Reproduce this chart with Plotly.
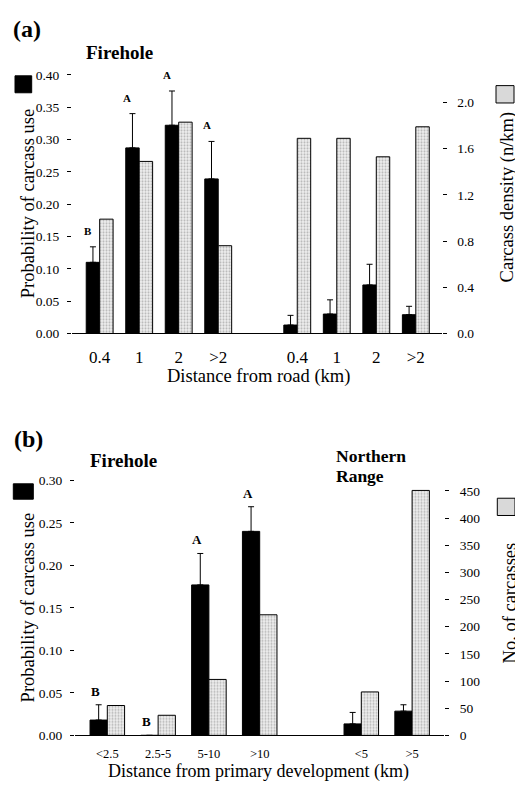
import plotly.graph_objects as go

# ---------------- data ----------------
a_labels = ["0.4", "1", "2", ">2", "0.4", "1", "2", ">2"]
a_pos = [0, 1, 2, 3, 5, 6, 7, 8]
a_prob = [0.110, 0.287, 0.322, 0.239, 0.013, 0.030, 0.075, 0.029]
a_prob_se = [0.024, 0.053, 0.053, 0.058, 0.015, 0.022, 0.032, 0.013]
a_density = [0.99, 1.49, 1.83, 0.76, 1.69, 1.69, 1.53, 1.79]
a_letters = ["B", "A", "A", "A", "", "", "", ""]

b_labels = ["<2.5", "2.5-5", "5-10", ">10", "<5", ">5"]
b_pos = [0, 1, 2, 3, 5, 6]
b_prob = [0.018, 0.0, 0.177, 0.240, 0.0135, 0.0285]
b_prob_se = [0.018, 0.0, 0.037, 0.029, 0.0135, 0.0075]
b_carcasses = [55, 37, 103, 222, 80, 451]
b_letters = ["B", "B", "A", "A", "", ""]

SERIF = "Liberation Serif"
OFF = 8                      # page body margin
W, H = 523 - OFF, 788 - OFF  # figure size
BW = 0.34

def px(x):   # page x -> paper
    return (x - OFF) / W

def py(y):   # page y -> paper
    return 1 - (y - OFF) / H

grey_marker = dict(color="white", line=dict(color="black", width=1),
                   pattern=dict(shape=".", fgcolor="#7a7a7a", bgcolor="#f0f0f0",
                                size=3, solidity=0.4))
black_marker = dict(color="black", line=dict(color="black", width=1))

fig = go.Figure()

def err(se):
    return dict(type="data", array=se, arrayminus=[0] * len(se), symmetric=False,
                color="black", thickness=1, width=3)

# panel (a)
fig.add_bar(x=a_pos, y=a_prob, offset=-BW, width=BW, marker=black_marker,
            error_y=err(a_prob_se), xaxis="x", yaxis="y", showlegend=False)
fig.add_bar(x=a_pos, y=a_density, offset=0, width=BW, marker=grey_marker,
            xaxis="x", yaxis="y2", showlegend=False)
# panel (b)
fig.add_bar(x=b_pos, y=b_prob, offset=-BW, width=BW, marker=black_marker,
            error_y=err(b_prob_se), xaxis="x2", yaxis="y3", showlegend=False)
fig.add_bar(x=b_pos, y=b_carcasses, offset=0, width=BW, marker=grey_marker,
            xaxis="x2", yaxis="y4", showlegend=False)

tickfont = dict(family=SERIF, size=13.5, color="black")

def yleft(domain, rng, dtick, fmt, anchor):
    return dict(domain=domain, range=rng, dtick=dtick, tick0=0, tickformat=fmt,
                ticks="outside", ticklen=4, tickcolor="black", tickwidth=1,
                showline=False, showgrid=False, zeroline=False, anchor=anchor,
                tickfont=tickfont, ticklabelstandoff=5)

def yright(domain, rng, tickvals, fmt, over, anchor):
    return dict(domain=domain, range=rng, tickvals=tickvals, tickformat=fmt,
                side="right", overlaying=over, anchor=anchor,
                ticks="outside", ticklen=4, tickcolor="black", showline=False,
                showgrid=False, zeroline=False, tickfont=tickfont, ticklabelstandoff=8)

a_dom_y = [py(332.7), py(69)]
b_dom_y = [py(742.5), py(482.5)]

fig.update_layout(
    width=W, height=H, margin=dict(l=0, r=0, t=0, b=0),
    paper_bgcolor="white", plot_bgcolor="white", barmode="overlay",
    xaxis=dict(domain=[px(72), px(441.5)], range=[-0.7, 8.65], tickvals=a_pos,
               ticktext=a_labels, ticks="", showline=True, linecolor="black",
               linewidth=1, showgrid=False, zeroline=False, anchor="y",
               tickfont=dict(family=SERIF, size=17, color="black"), ticklabelstandoff=8),
    yaxis=yleft(a_dom_y, [0, 0.40], 0.05, ".2f", "x"),
    yaxis2=yright(a_dom_y, [0, 2.24], [0, 0.4, 0.8, 1.2, 1.6, 2.0], ".1f", "y", "x"),
    xaxis2=dict(domain=[px(75), px(444)], range=[-0.636, 6.628], tickvals=b_pos,
                ticktext=b_labels, ticks="", showline=True, linecolor="black",
                linewidth=1, showgrid=False, zeroline=False, anchor="y3",
                tickfont=dict(family=SERIF, size=12.5, color="black"), ticklabelstandoff=7),
    yaxis3=yleft(b_dom_y, [0, 0.30], 0.05, ".2f", "x2"),
    yaxis4=yright(b_dom_y, [0, 469.5], list(range(0, 451, 50)), "d", "y3", "x2"),
)

ann = []
# significance letters
for p, v, s, L in zip(a_pos, a_prob, a_prob_se, a_letters):
    if L:
        ann.append(dict(x=p - BW / 2, y=v + s, xref="x", yref="y", text="<b>%s</b>" % L,
                        showarrow=False, yanchor="bottom", xshift=-5, yshift=8,
                        font=dict(family=SERIF, size=11, color="black")))
for p, v, s, L in zip(b_pos, b_prob, b_prob_se, b_letters):
    if L:
        ann.append(dict(x=p - BW / 2, y=v + s, xref="x2", yref="y3", text="<b>%s</b>" % L,
                        showarrow=False, yanchor="bottom", xshift=-3, yshift=4,
                        font=dict(family=SERIF, size=13, color="black")))

def txt(x, y, text, size, bold=False, angle=0, xanchor="center"):
    t = "<b>%s</b>" % text if bold else text
    return dict(x=px(x), y=py(y), xref="paper", yref="paper", text=t,
                showarrow=False, textangle=angle, xanchor=xanchor, yanchor="middle",
                font=dict(family=SERIF, size=size, color="black"))

ann += [
    txt(27, 22, "(a)", 24, bold=True),
    txt(119, 46, "Firehole", 19, bold=True),
    txt(28, 200, "Probability of carcass use", 18.5, angle=-90),
    txt(507, 194, "Carcass density (n/km)", 18.5, angle=-90),
    txt(258, 377, "Distance from road (km)", 18.5),
    txt(28, 440, "(b)", 24, bold=True),
    txt(123, 462, "Firehole", 19, bold=True),
    txt(334, 458, "Northern", 17.5, bold=True, xanchor="left"),
    txt(334, 478.5, "Range", 17.5, bold=True, xanchor="left"),
    txt(28, 612, "Probability of carcass use", 18.5, angle=-90),
    txt(510, 608, "No. of carcasses", 18.5, angle=-90),
    txt(258, 779, "Distance from primary development (km)", 18),
]
fig.update_layout(annotations=ann)

# legend keys
def key(x0, y0, x1, y1, grey):
    return dict(type="rect", xref="paper", yref="paper", x0=px(x0), x1=px(x1),
                y0=py(y1), y1=py(y0),
                fillcolor="#d9d9d9" if grey else "black",
                line=dict(color="black", width=1))

fig.update_layout(shapes=[
    key(15, 70, 31.7, 87.3, False),
    key(496, 80, 514, 97.7, True),
    key(13.3, 486, 33.3, 501.7, False),
    key(497.3, 500.7, 515, 518.3, True),
])

fig.write_html("out.html")
